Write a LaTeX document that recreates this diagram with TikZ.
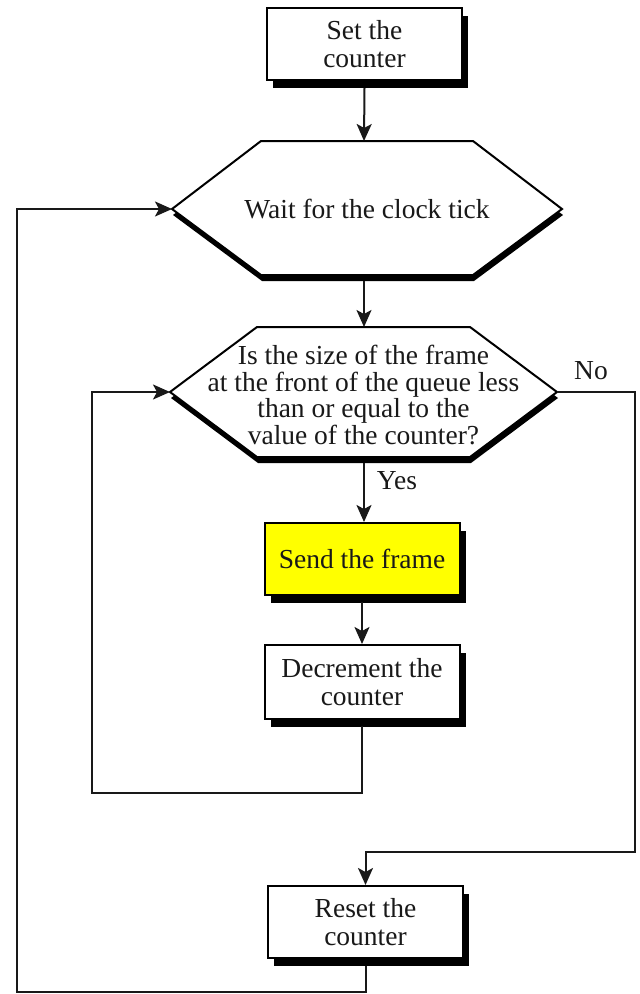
\documentclass[tikz,border=0pt]{standalone}
\usepackage{fontspec}
\setmainfont{Liberation Serif}
\usetikzlibrary{arrows.meta,shadows}
\definecolor{sendyellow}{RGB}{255,255,0}
\begin{document}
\begin{tikzpicture}[x=1pt,y=-1pt,
  txt/.style={font=\fontsize{27.5}{28}\selectfont, align=center, inner sep=0pt, text=black!90},
  flowbox/.style={draw=black, line width=2pt, fill=white, minimum width=195pt, minimum height=72pt, txt,
     drop shadow={shadow xshift=6pt, shadow yshift=-8pt, fill=black, opacity=1}},
  conn/.style={line width=2pt, draw=black!90},
  arr/.style={conn, -{Stealth[length=17pt,width=15pt,inset=4pt]}},
  hexshape/.style={draw=black, line width=2pt, fill=white, line join=miter},
  hexshadow/.style={fill=black}
]
\useasboundingbox (0,0) rectangle (640,994);

% nodes: boxes
\node[flowbox] (set) at (364.5,44) {Set the\\counter};
\node[flowbox, fill=sendyellow] (send) at (362,559) {Send the frame};
\node[flowbox, minimum height=74pt] (dec) at (362,682) {Decrement the\\counter};
\node[flowbox] (reset) at (365.5,922) {Reset the\\counter};

% hexagon 1
\fill[hexshadow, shift={(1,6)}] (261,141) -- (473,141) -- (562,209) -- (473,275) -- (261,275) -- (172,209) -- cycle;
\draw[hexshape] (261,141) -- (473,141) -- (562,209) -- (473,275) -- (261,275) -- (172,209) -- cycle;
\coordinate (h1n) at (364,141);
\coordinate (h1s) at (364,281);
\coordinate (h1w) at (172,209);
\node[txt] (wait) at (367,209) {Wait for the clock tick};

% hexagon 2
\fill[hexshadow, shift={(1,6)}] (257,327) -- (470,327) -- (557,392) -- (470,457) -- (257,457) -- (170,392) -- cycle;
\draw[hexshape] (257,327) -- (470,327) -- (557,392) -- (470,457) -- (257,457) -- (170,392) -- cycle;
\coordinate (h2n) at (364,327);
\coordinate (h2s) at (364,463);
\coordinate (h2w) at (170,392);
\coordinate (h2e) at (557,392);
\node[txt, font=\fontsize{27.5}{26.5}\selectfont] (ask) at (363.5,395) {Is the size of the frame\\at the front of the queue less\\than or equal to the\\value of the counter?};

% labels
\node[txt] (yes) at (397,481) {Yes};
\node[txt] (no) at (591,371) {No};

% turning points
\coordinate (l1) at (92,793);
\coordinate (r1) at (635,852);
\coordinate (b1) at (17,992);

% connectors
\draw[arr] (set.south |- 0,88) -- (h1n);
\draw[arr] (h1s) -- (h2n);
\draw[arr] (h2s) -- (h2s |- send.north);
\draw[arr] (send.south |- 0,602) -- (send.south |- dec.north);
\draw[arr] (dec.south |- 0,726) |- (l1) |- (h2w);
\draw[arr] (h2e) -| (r1) -| (reset.north);
\draw[arr] (reset.south |- 0,966) |- (b1) |- (h1w);
\end{tikzpicture}
\end{document}
